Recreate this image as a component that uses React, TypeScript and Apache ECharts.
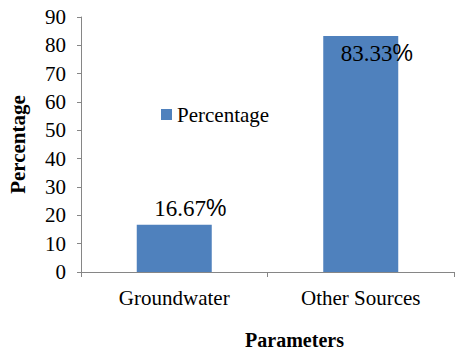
import React, { useEffect, useRef } from "react";
import * as echarts from "echarts";

const categories = ["Groundwater", "Other Sources"];
const percentages = [16.67, 83.33];
const seriesName = "Percentage";
const xAxisTitle = "Parameters";
const yAxisTitle = "Percentage";

const SERIF = "Liberation Serif";
const SANS = "Liberation Sans";

export default function App() {
  const ref = useRef<HTMLDivElement>(null);
  useEffect(() => {
    if (!ref.current) return;
    const chart = echarts.init(ref.current, null, { renderer: "svg" });
    const labelCommon = {
      show: true,
      formatter: (p: any) => `{n|${Number(p.value).toFixed(2)}}{p|%}`,
      offset: [16, 0],
      rich: {
        n: { fontFamily: SERIF, fontWeight: "normal", fontSize: 23, color: "#000" },
        p: { fontFamily: SANS, fontWeight: "normal", fontSize: 23, color: "#000" },
      },
    };
    const data = percentages.map((v, i) => ({
      value: v,
      label:
        i === 0
          ? { ...labelCommon, position: "top", distance: 5 }
          : { ...labelCommon, position: "insideTop", distance: 6 },
    }));
    const regular = { fontFamily: SERIF, fontWeight: "normal", fontSize: 21, color: "#000" };
    chart.setOption({
      animation: false,
      textStyle: { fontFamily: SERIF },
      grid: {
        left: 81,
        top: 17,
        right: 2,
        bottom: 80,
        containLabel: false,
        outerBoundsMode: "none",
      },
      legend: {
        show: true,
        left: 161,
        top: 104,
        padding: 0,
        icon: "rect",
        itemWidth: 11,
        itemHeight: 11,
        itemGap: 4,
        textStyle: { ...regular },
        data: [seriesName],
      },
      xAxis: {
        type: "category",
        data: categories,
        name: xAxisTitle,
        nameLocation: "middle",
        nameGap: 58,
        nameTextStyle: {
          fontFamily: SERIF,
          fontSize: 20,
          fontWeight: "bold",
          color: "#000",
          padding: [0, 0, 0, 54],
        },
        axisLine: { show: true, lineStyle: { color: "#868686", width: 1 } },
        axisTick: { show: true, alignWithLabel: false, length: 5, lineStyle: { color: "#868686" } },
        axisLabel: { ...regular, margin: 15, interval: 0 },
        splitLine: { show: false },
      },
      yAxis: {
        type: "value",
        min: 0,
        max: 90,
        interval: 10,
        name: yAxisTitle,
        nameLocation: "middle",
        nameGap: 53,
        nameRotate: 90,
        nameTextStyle: { fontFamily: SERIF, fontSize: 21, fontWeight: "bold", color: "#000" },
        axisLine: { show: true, lineStyle: { color: "#868686", width: 1 } },
        axisTick: { show: true, inside: false, length: 4, lineStyle: { color: "#868686" } },
        axisLabel: { ...regular, margin: 15 },
        splitLine: { show: false },
      },
      series: [
        {
          name: seriesName,
          type: "bar",
          barWidth: 75,
          itemStyle: { color: "#4F81BD" },
          data,
        },
      ],
    });
    return () => chart.dispose();
  }, []);
  return (
    <div
      ref={ref}
      style={{ position: "fixed", left: 0, top: 0, width: 456, height: 352, background: "#fff" }}
    />
  );
}
